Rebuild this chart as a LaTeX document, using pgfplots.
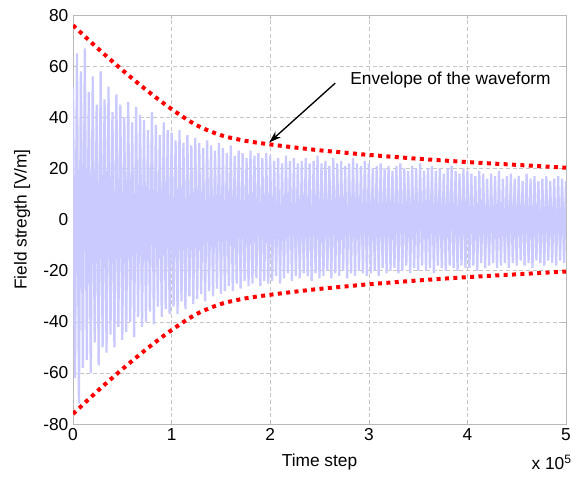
\documentclass[border=0pt]{standalone}
\usepackage{pgfplots}
\pgfplotsset{compat=1.18}
\usepackage{fontspec}
\setmainfont{Liberation Sans}
\usetikzlibrary{arrows.meta}
\definecolor{wave}{RGB}{202,202,255}
\definecolor{env}{RGB}{255,0,0}

\begin{document}
\begin{tikzpicture}
\begin{axis}[
  width=370pt, height=307pt, scale only axis,
  xmin=0, xmax=5, ymin=-80, ymax=80,
  xtick={0,1,2,3,4,5}, ytick={-80,-60,-40,-20,0,20,40,60,80},
  grid=major, grid style={densely dashed, gray!45},
  axis line style={gray!55},
  tick style={gray!55}, major tick length=3pt, tick align=inside,
  /pgf/number format/assume math mode=true,
  ticklabel style={font=\fontsize{13}{15}\selectfont},
  label style={font=\fontsize{13}{15}\selectfont},
  xlabel={Time step}, ylabel={Field stregth [V/m]},
  xlabel style={at={(axis description cs:0.5,-0.093)}, anchor=center},
  ylabel style={at={(axis description cs:-0.103,0.5)}, anchor=center},
]
% dense waveform
\addplot[wave, line width=1.7pt, line join=bevel] coordinates {
(0.00,52) (0.02,-62) (0.04,65) (0.06,-72) (0.08,58) (0.10,-58)
(0.12,67) (0.14,-55) (0.16,50) (0.18,-60) (0.20,56) (0.22,-48)
(0.24,45) (0.26,-57) (0.28,58) (0.30,-50) (0.32,47) (0.34,-52)
(0.36,52) (0.38,-45) (0.40,42) (0.42,-50) (0.44,49) (0.46,-42)
(0.48,45) (0.50,-47) (0.52,40) (0.54,-44) (0.56,46) (0.58,-40)
(0.60,38) (0.62,-46) (0.64,44) (0.66,-38) (0.68,41) (0.70,-42)
(0.72,39) (0.74,-40) (0.76,35) (0.78,-36) (0.80,42) (0.82,-41)
(0.84,37) (0.86,-34) (0.88,33) (0.90,-38) (0.92,38) (0.94,-35)
(0.96,35) (0.98,-37) (1.00,34) (1.02,-34) (1.04,31) (1.06,-37)
(1.08,35) (1.10,-32) (1.12,30) (1.14,-35) (1.16,33) (1.18,-30)
(1.20,29) (1.22,-33) (1.24,32) (1.26,-31) (1.28,30) (1.30,-29)
(1.32,28) (1.34,-32) (1.36,31) (1.38,-28) (1.40,29) (1.42,-30)
(1.44,27) (1.46,-27) (1.48,30) (1.50,-29) (1.52,28) (1.54,-28)
(1.56,26) (1.58,-26) (1.60,29) (1.62,-28) (1.64,25) (1.66,-25)
(1.68,27) (1.70,-27) (1.72,26) (1.74,-24) (1.76,24) (1.78,-26)
(1.80,27) (1.82,-25) (1.84,25) (1.86,-23) (1.88,26) (1.90,-26)
(1.92,24) (1.94,-24) (1.96,26) (1.98,-25) (2.00,25) (2.02,-24)
(2.04,23) (2.06,-22) (2.08,24) (2.10,-25) (2.12,22) (2.14,-23)
(2.16,25) (2.18,-21) (2.20,23) (2.22,-24) (2.24,24) (2.26,-22)
(2.28,22) (2.30,-23) (2.32,23) (2.34,-21) (2.36,24) (2.38,-22)
(2.40,22) (2.42,-24) (2.44,23) (2.46,-21) (2.48,25) (2.50,-23)
(2.52,22) (2.54,-22) (2.56,23) (2.58,-20) (2.60,21) (2.62,-23)
(2.64,24) (2.66,-21) (2.68,22) (2.70,-22) (2.72,23) (2.74,-20)
(2.76,21) (2.78,-23) (2.80,22) (2.82,-21) (2.84,24) (2.86,-22)
(2.88,22) (2.90,-20) (2.92,21) (2.94,-21) (2.96,23) (2.98,-22)
(3.00,22) (3.02,-21) (3.04,20) (3.06,-20) (3.08,21) (3.10,-22)
(3.12,22) (3.14,-19) (3.16,20) (3.18,-21) (3.20,21) (3.22,-20)
(3.24,19) (3.26,-19) (3.28,21) (3.30,-21) (3.32,22) (3.34,-20)
(3.36,20) (3.38,-18) (3.40,19) (3.42,-21) (3.44,21) (3.46,-19)
(3.48,20) (3.50,-20) (3.52,22) (3.54,-18) (3.56,19) (3.58,-20)
(3.60,20) (3.62,-19) (3.64,21) (3.66,-21) (3.68,19) (3.70,-18)
(3.72,20) (3.74,-19) (3.76,18) (3.78,-20) (3.80,20) (3.82,-18)
(3.84,21) (3.86,-19) (3.88,19) (3.90,-20) (3.92,18) (3.94,-18)
(3.96,20) (3.98,-19) (4.00,19) (4.02,-19) (4.04,18) (4.06,-18)
(4.08,17) (4.10,-20) (4.12,19) (4.14,-17) (4.16,18) (4.18,-19)
(4.20,16) (4.22,-18) (4.24,18) (4.26,-17) (4.28,17) (4.30,-19)
(4.32,19) (4.34,-18) (4.36,16) (4.38,-17) (4.40,17) (4.42,-19)
(4.44,18) (4.46,-17) (4.48,16) (4.50,-18) (4.52,17) (4.54,-16)
(4.56,15) (4.58,-18) (4.60,18) (4.62,-17) (4.64,16) (4.66,-19)
(4.68,17) (4.70,-16) (4.72,15) (4.74,-17) (4.76,16) (4.78,-18)
(4.80,17) (4.82,-16) (4.84,15) (4.86,-17) (4.88,16) (4.90,-18)
(4.92,17) (4.94,-16) (4.96,16) (4.98,-17) (5.00,15)
};
% envelope, upper
\addplot[env, line width=3pt, dash pattern=on 3pt off 3.3pt, smooth] coordinates {
(0,76) (0.25,67) (0.5,58.5) (0.75,50.5) (1.0,43.2) (1.25,37.0) (1.5,33.0)
(1.75,30.8) (2.0,29.4) (2.25,28.2) (2.5,27.1) (2.75,26.2) (3.0,25.3)
(3.5,23.8) (4.0,22.5) (4.5,21.4) (5.0,20.3)
};
% envelope, lower
\addplot[env, line width=3pt, dash pattern=on 3pt off 3.3pt, smooth] coordinates {
(0,-76) (0.25,-67) (0.5,-58.5) (0.75,-50.5) (1.0,-43.2) (1.25,-37.0) (1.5,-33.0)
(1.75,-30.8) (2.0,-29.4) (2.25,-28.2) (2.5,-27.1) (2.75,-26.2) (3.0,-25.3)
(3.5,-23.8) (4.0,-22.5) (4.5,-21.4) (5.0,-20.3)
};
\draw[-{Stealth[length=9pt,width=6pt]}, line width=1pt] (axis cs:2.66,53.4) -- (axis cs:1.99,30.2);
\node[anchor=west, font=\fontsize{13}{15}\selectfont, inner sep=0pt] at (axis cs:2.81,54.6) {Envelope of the waveform};
\coordinate (ll) at (rel axis cs:0,0);
\coordinate (ur) at (rel axis cs:1,1);
\end{axis}
\node[anchor=north east, font=\fontsize{13}{15}\selectfont, inner sep=0pt] at ([xshift=4.5pt,yshift=-23pt]ur |- ll) {x 10\textsuperscript{5}};
\pgfresetboundingbox
\path[use as bounding box] ([xshift=-54.8pt,yshift=-43.5pt]ll) rectangle ([xshift=9pt,yshift=11.3pt]ur);
\end{tikzpicture}
\end{document}
